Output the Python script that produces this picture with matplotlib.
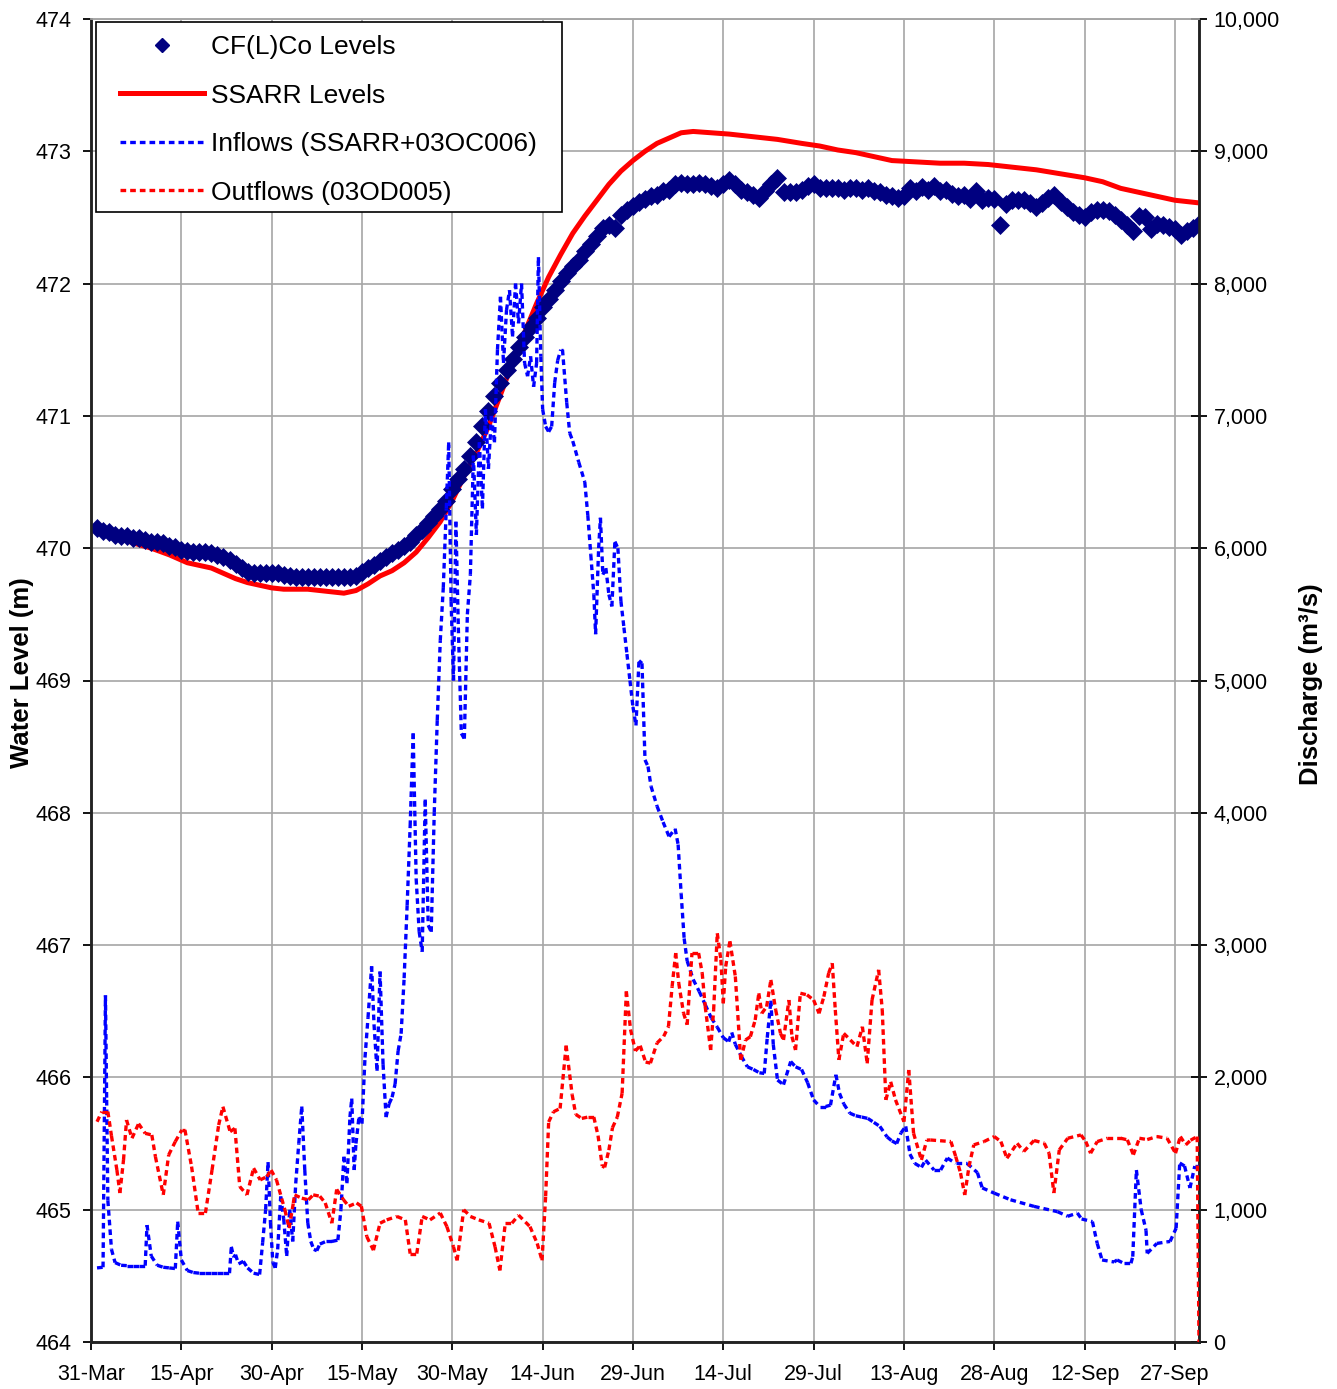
import matplotlib
matplotlib.use("Agg")
import matplotlib.pyplot as plt
from matplotlib.collections import LineCollection
from matplotlib.lines import Line2D
from matplotlib.patches import Rectangle
import numpy as np
import pandas as pd

plt.rcParams['font.family'] = ['Liberation Sans', 'DejaVu Sans']

# day 0 = 31-Mar, axis runs to 1-Oct (day 184)
start_date = '2000-03-31'

# CF(L)Co lake levels (m), one per day, 1-Apr .. 1-Oct
cflco_levels = [
    470.15, 470.13, 470.12, 470.10, 470.09, 470.09, 470.08, 470.08, 470.06, 470.05,
    470.05, 470.04, 470.02, 470.01, 469.99, 469.98, 469.97, 469.97, 469.97, 469.96,
    469.95, 469.93, 469.91, 469.88, 469.85, 469.82, 469.81, 469.81, 469.81, 469.81,
    469.81, 469.80, 469.79, 469.78, 469.78, 469.78, 469.78, 469.78, 469.78, 469.78,
    469.78, 469.78, 469.78, 469.79, 469.82, 469.85, 469.87, 469.90, 469.93, 469.96,
    469.99, 470.02, 470.05, 470.10, 470.14, 470.19, 470.24, 470.30, 470.36, 470.45,
    470.52, 470.60, 470.70, 470.80, 470.92, 471.04, 471.15, 471.25, 471.35, 471.43,
    471.52, 471.60, 471.67, 471.74, 471.82, 471.88, 471.95, 472.02, 472.08, 472.13,
    472.18, 472.25, 472.30, 472.36, 472.42, 472.44, 472.42, 472.52, 472.56, 472.59,
    472.62, 472.64, 472.66, 472.67, 472.70, 472.71, 472.75, 472.76, 472.75, 472.75,
    472.76, 472.75, 472.74, 472.72, 472.75, 472.78, 472.75, 472.71, 472.69, 472.67,
    472.65, 472.70, 472.75, 472.80, 472.69, 472.69, 472.69, 472.71, 472.74, 472.75,
    472.72, 472.72, 472.72, 472.72, 472.71, 472.72, 472.72, 472.71, 472.72, 472.70,
    472.69, 472.67, 472.66, 472.65, 472.66, 472.72, 472.70, 472.73, 472.71, 472.74,
    472.70, 472.71, 472.68, 472.66, 472.67, 472.64, 472.70, 472.63, 472.65, 472.64,
    472.44, 472.60, 472.63, 472.63, 472.63, 472.61, 472.58, 472.61, 472.65, 472.67,
    472.62, 472.58, 472.54, 472.52, 472.50, 472.54, 472.56, 472.56, 472.55, 472.52,
    472.48, 472.44, 472.40, 472.51, 472.50, 472.41, 472.45, 472.44, 472.43, 472.41,
    472.37, 472.40, 472.42, 472.45,
]
level_days = np.arange(1, 1 + len(cflco_levels))

# SSARR simulated levels (m)
ssarr_days = [0, 4, 7, 10, 13, 16, 18, 20, 22, 24, 26, 28, 30, 32, 34, 36, 38, 40,
              42, 44, 46, 48, 50, 52, 54, 56, 58, 60, 62, 64, 66, 68, 70, 72, 74,
              76, 78, 80, 82, 84, 86, 88, 90, 92, 94, 96, 98, 100, 103, 106, 110,
              114, 118, 121, 124, 127, 130, 133, 137, 141, 145, 149, 153, 157,
              161, 165, 168, 171, 174, 177, 180, 182, 184]
ssarr_levels = [470.14, 470.09, 470.04, 470.00, 469.95, 469.89, 469.87, 469.85,
                469.81, 469.77, 469.74, 469.72, 469.70, 469.69, 469.69, 469.69,
                469.68, 469.67, 469.66, 469.68, 469.73, 469.79, 469.83, 469.89,
                469.97, 470.08, 470.20, 470.36, 470.55, 470.72, 470.92, 471.16,
                471.40, 471.63, 471.85, 472.05, 472.22, 472.38, 472.51, 472.63,
                472.75, 472.85, 472.93, 473.00, 473.06, 473.10, 473.14, 473.15,
                473.14, 473.13, 473.11, 473.09, 473.06, 473.04, 473.01, 472.99,
                472.96, 472.93, 472.92, 472.91, 472.91, 472.90, 472.88, 472.86,
                472.83, 472.80, 472.77, 472.72, 472.69, 472.66, 472.63, 472.62,
                472.61]

# inflows SSARR + 03OC006 (m3/s)
inflow_days = [
    1, 2, 2.4, 2.6, 2.8, 3.4, 4, 5, 6, 7, 8, 9, 9.3, 10, 11, 12, 13, 14, 14.4, 15,
    16, 17, 18, 19, 20, 21, 22, 23, 23.3, 23.7, 24, 24.5, 25.3, 26, 27, 28, 28.5,
    29, 29.4, 29.8, 30.2, 30.6, 31, 31.5, 32, 32.5, 33, 33.5, 34, 34.5, 35, 35.5,
    36, 36.5, 37, 37.5, 38, 39, 40, 41, 41.5, 42, 42.5, 43, 43.3, 43.7, 44, 44.5,
    45, 45.5, 46, 46.6, 47, 47.5, 48, 48.5, 49, 49.5, 50, 50.5, 51, 51.5, 52,
    52.5, 53, 53.5, 54, 54.5, 55, 55.5, 56, 56.5, 57, 57.5, 58, 58.5, 59, 59.4,
    59.8, 60.2, 60.6, 61, 61.5, 62, 62.5, 63, 63.5, 64, 64.5, 65, 65.5, 66, 66.5,
    67, 67.5, 68, 68.5, 69, 69.5, 70, 70.5, 71, 71.5, 72, 72.5, 73, 73.5, 74,
    74.3, 74.7, 75, 75.5, 76, 76.5, 77, 77.5, 78, 78.3, 79, 79.5, 80, 81, 82,
    82.5, 83, 83.5, 83.8, 84.3, 84.6, 85, 85.5, 86, 86.5, 87, 87.5, 88, 88.5, 89,
    89.5, 90, 90.5, 91, 91.5, 92, 92.5, 93, 94, 95, 96, 97, 97.5, 98, 98.5, 99,
    100, 101, 102, 103, 104, 105, 105.9, 106.4, 107, 108, 109, 110, 111, 111.8,
    112.3, 112.9, 113.3, 114, 115, 116.2, 117, 118, 119, 120, 121, 122, 122.8,
    123.7, 124.3, 125, 126, 127, 128, 129, 130, 131, 132.2, 133, 133.8, 134.5,
    135.3, 136, 136.8, 137.9, 138.6, 140, 141.1, 142.2, 143.6, 145.5, 147.2, 148,
    150, 152.7, 156.6, 160.5, 162.2, 163.8, 164.5, 166.3, 167.1, 167.9, 169.9,
    170.4, 171.5, 172.7, 173, 173.6, 174.4, 175.2, 175.4, 177, 178.7, 179.2,
    180.2, 180.8, 181.6, 182.5, 183.3, 184,
]
inflow_cms = [
    560, 565, 2620, 1830, 1070, 700, 600, 580, 577, 577, 577, 577, 884, 650, 580,
    565, 560, 555, 910, 620, 540, 525, 520, 520, 520, 520, 520, 520, 720, 640, 660,
    590, 610, 560, 520, 510, 750, 1000, 1360, 900, 600, 560, 700, 1100, 930, 650,
    1000, 760, 1200, 1500, 1780, 1300, 900, 760, 700, 690, 740, 760, 760, 770,
    1000, 1400, 1200, 1700, 1840, 1300, 1500, 1700, 1650, 2150, 2450, 2840, 2400,
    2050, 2800, 2100, 1700, 1800, 1850, 1950, 2200, 2330, 2750, 3300, 3900, 4600,
    3500, 3100, 2950, 4100, 3150, 3100, 4000, 4700, 5300, 5700, 6300, 6800, 5600,
    5000, 6200, 5400, 4600, 4560, 5500, 5800, 6700, 6100, 6800, 6300, 7050, 6600,
    7000, 6800, 7500, 7900, 7400, 7800, 7950, 7600, 8000, 7700, 8000, 7400, 7300,
    7450, 7220, 7400, 8200, 7450, 7050, 6920, 6880, 6920, 7250, 7420, 7500, 7500,
    7100, 6870, 6810, 6650, 6500, 6250, 5950, 5650, 5350, 6000, 6230, 5800, 5850,
    5650, 5560, 6050, 6000, 5600, 5400, 5200, 5000, 4800, 4660, 5150, 5130, 4400,
    4350, 4200, 4050, 3930, 3820, 3880, 3760, 3390, 3050, 2880, 2740, 2650, 2550,
    2450, 2380, 2300, 2270, 2340, 2250, 2160, 2080, 2060, 2035, 2030, 2300, 2580,
    2250, 1980, 1945, 2120, 2080, 2060, 1960, 1830, 1780, 1780, 1790, 2020, 1880,
    1800, 1730, 1710, 1700, 1690, 1660, 1630, 1550, 1520, 1500, 1580, 1630, 1420,
    1350, 1320, 1375, 1300, 1300, 1390, 1350, 1350, 1280, 1165, 1125, 1075, 1025,
    985, 950, 975, 930, 910, 745, 620, 605, 620, 595, 595, 645, 1300, 1000, 845,
    670, 745, 757, 760, 860, 1353, 1330, 1164, 1330, 1330,
]

# outflows 03OD005 (m3/s)
outflow_days = [
    1, 1.8, 2.8, 3.4, 4.3, 4.8, 5.4, 5.9, 6.8, 7.9, 9, 10.1, 10.7, 12, 12.9, 14,
    15.1, 15.6, 16.7, 17.8, 19, 20.1, 21.2, 21.9, 23.1, 23.9, 24.7, 25.9, 27,
    28.1, 29.2, 29.9, 30.8, 32.2, 32.9, 33.6, 33.8, 35, 36.1, 36.9, 38, 38.9, 40,
    40.8, 41.9, 42.8, 44.1, 44.9, 45.8, 46.9, 48, 49.1, 50.8, 52.2, 53, 54.1, 55,
    56.3, 58, 59.1, 60.2, 60.8, 61.9, 63, 64.4, 66.1, 67.1, 67.9, 68.8, 69.9, 71,
    72.9, 74.1, 74.9, 75.5, 76, 76.8, 77.9, 78.9, 79.9, 80.5, 81.5, 82.5, 83.5,
    84.2, 84.9, 85.3, 86, 86.6, 87.4, 88.2, 88.9, 89.6, 90.4, 91.2, 92.1, 92.9,
    94, 95.1, 95.9, 96.5, 97.1, 97.6, 98.4, 99, 99.8, 100.9, 101.5, 102, 102.9,
    103.4, 104, 104.6, 105, 105.4, 106.1, 107, 107.9, 108.7, 109.5, 110.3, 110.9,
    111.4, 112.2, 112.9, 113.7, 114.5, 115, 115.9, 116.4, 117, 117.8, 118.9, 120,
    120.9, 121.7, 122.5, 123.1, 123.6, 124.2, 125, 126.1, 127.2, 128.1, 128.9,
    129.7, 130.8, 131.4, 132, 132.8, 133.6, 135, 135.8, 136.6, 137.9, 138.8,
    139.4, 142.8, 143.6, 144.4, 145.1, 145.8, 146.6, 148.3, 150, 151.1, 152.1,
    153.8, 154.9, 156.6, 158.3, 159.1, 159.9, 160.8, 162.2, 164.4, 165.2, 166,
    167.1, 168.8, 171, 172.1, 173.1, 174.1, 175.4, 177, 178.7, 180.1, 180.9,
    181.8, 182.6, 183.7, 184,
]
outflow_cms = [
    1665, 1741, 1741, 1558, 1300, 1126, 1376, 1678, 1540, 1650, 1577, 1565, 1400,
    1112, 1414, 1515, 1603, 1603, 1326, 975, 975, 1300, 1640, 1779, 1590, 1615,
    1175, 1112, 1314, 1225, 1250, 1300, 1225, 998, 860, 1050, 1112, 1087, 1075,
    1112, 1102, 1051, 898, 1153, 1077, 1026, 1051, 1026, 796, 694, 898, 923, 949,
    923, 668, 668, 949, 923, 975, 872, 719, 617, 1000, 949, 923, 898, 719, 541,
    898, 898, 959, 872, 745, 617, 1102, 1663, 1740, 1765, 2240, 1870, 1720, 1690,
    1700, 1700, 1560, 1330, 1320, 1450, 1620, 1700, 1880, 2650, 2362, 2200, 2240,
    2116, 2108, 2260, 2310, 2385, 2686, 2940, 2713, 2486, 2398, 2940, 2940, 2788,
    2535, 2207, 2510, 3090, 2889, 2560, 2838, 3030, 2763, 2132, 2283, 2308, 2434,
    2636, 2484, 2535, 2737, 2510, 2333, 2283, 2585, 2308, 2207, 2636, 2624, 2585,
    2484, 2610, 2788, 2863, 2510, 2132, 2333, 2283, 2232, 2383, 2106, 2585, 2813,
    2510, 1830, 1967, 1830, 1665, 2056, 1577, 1376, 1526, 1527, 1515, 1402, 1277,
    1111, 1326, 1490, 1515, 1553, 1515, 1389, 1502, 1440, 1523, 1503, 1427, 1126,
    1452, 1540, 1565, 1515, 1427, 1515, 1540, 1540, 1528, 1415, 1540, 1530, 1553,
    1540, 1427, 1553, 1490, 1525, 1553, 0,
]

W, H = 1337, 1389
fig = plt.figure(figsize=(W / 100, H / 100), dpi=100)
ax = fig.add_axes([91 / W, 47 / H, 1108 / W, 1323 / H])
ax2 = ax.twinx()

grid_c = '#a6a6a6'
tick_fs = 15.5
flow_lw = 2.4
dash = (0, (1.7, 1.2))


def dashed_segments(axis, x, y, color, lw=flow_lw):
    # each segment gets its own dash pattern, so short flat pieces stay solid
    pts = np.column_stack([x, y])
    segs = np.stack([pts[:-1], pts[1:]], axis=1)
    lc = LineCollection(segs, colors=color, linewidths=lw, linestyles=dash,
                        capstyle='butt', zorder=3)
    axis.add_collection(lc)


# levels on the left axis
ax.plot(ssarr_days, ssarr_levels, color='#ff0000', lw=3.6, zorder=3,
        solid_capstyle='round')
ax.plot(level_days, cflco_levels, ls='none', marker='D', ms=8.7,
        color='#000080', mec='#000080', mew=0.5, zorder=4)

# discharges on the right axis
dashed_segments(ax2, inflow_days, inflow_cms, '#0000ff')
dashed_segments(ax2, outflow_days, outflow_cms, '#ff0000')

ax.set_xlim(0, 184)
ax.set_ylim(464, 474)
ax2.set_ylim(0, 10000)

tick_days = np.arange(0, 181, 15)
tick_dates = pd.date_range(start_date, periods=len(tick_days), freq='15D')
ax.set_xticks(tick_days)
ax.set_xticklabels([f"{d.day}-{d.strftime('%b')}" for d in tick_dates],
                   fontsize=tick_fs)
ax.set_yticks(np.arange(464, 475, 1))
ax.set_yticklabels([str(v) for v in range(464, 475)], fontsize=tick_fs)
ax2.set_yticks(np.arange(0, 10001, 1000))
ax2.set_yticklabels([f"{v:,}" for v in range(0, 10001, 1000)], fontsize=tick_fs)

ax.grid(True, color=grid_c, lw=1.2)
ax.set_axisbelow(True)

ax.tick_params(axis='x', direction='out', length=6, width=1.3, pad=10)
ax.tick_params(axis='y', direction='out', length=6, width=1.3, pad=8)
ax2.tick_params(axis='y', direction='inout', length=11, width=1.3, pad=5)

for a in (ax, ax2):
    a.spines['top'].set_color(grid_c)
    a.spines['top'].set_linewidth(1.2)
    for s in ('left', 'bottom', 'right'):
        a.spines[s].set_color('#222222')
        a.spines[s].set_linewidth(1.8)

ax.set_ylabel('Water Level (m)', fontsize=18.5, fontweight='bold')
ax.yaxis.set_label_coords(-57 / 1108, 0.506)
ax2.set_ylabel('Discharge (m³/s)', fontsize=18.5, fontweight='bold',
               rotation=90)
ax2.yaxis.set_label_coords(1208 / 1108, 0.497)

# legend box
ax2.add_patch(Rectangle((5 / 1108, (1342 - 212) / 1323), 466 / 1108, 190 / 1323,
                        transform=ax2.transAxes, facecolor='white',
                        edgecolor='black', lw=1.2, zorder=5))
handles = [
    Line2D([], [], ls='none', marker='D', ms=7, color='#000080'),
    Line2D([], [], color='#ff0000', lw=3.6),
    Line2D([], [], color='#0000ff', lw=flow_lw, ls=dash),
    Line2D([], [], color='#ff0000', lw=flow_lw, ls=dash),
]
labels = ['CF(L)Co Levels', 'SSARR Levels', 'Inflows (SSARR+03OC006)',
          'Outflows (03OD005)']
leg = ax2.legend(handles, labels, loc='upper left',
                 bbox_to_anchor=(29 / 1108, (1342 - 35) / 1323),
                 frameon=False, fontsize=19, handlelength=3.2,
                 handletextpad=0.25, labelspacing=0.93, borderpad=0,
                 borderaxespad=0)
leg.set_zorder(6)

fig.savefig('out.png', dpi=100)
